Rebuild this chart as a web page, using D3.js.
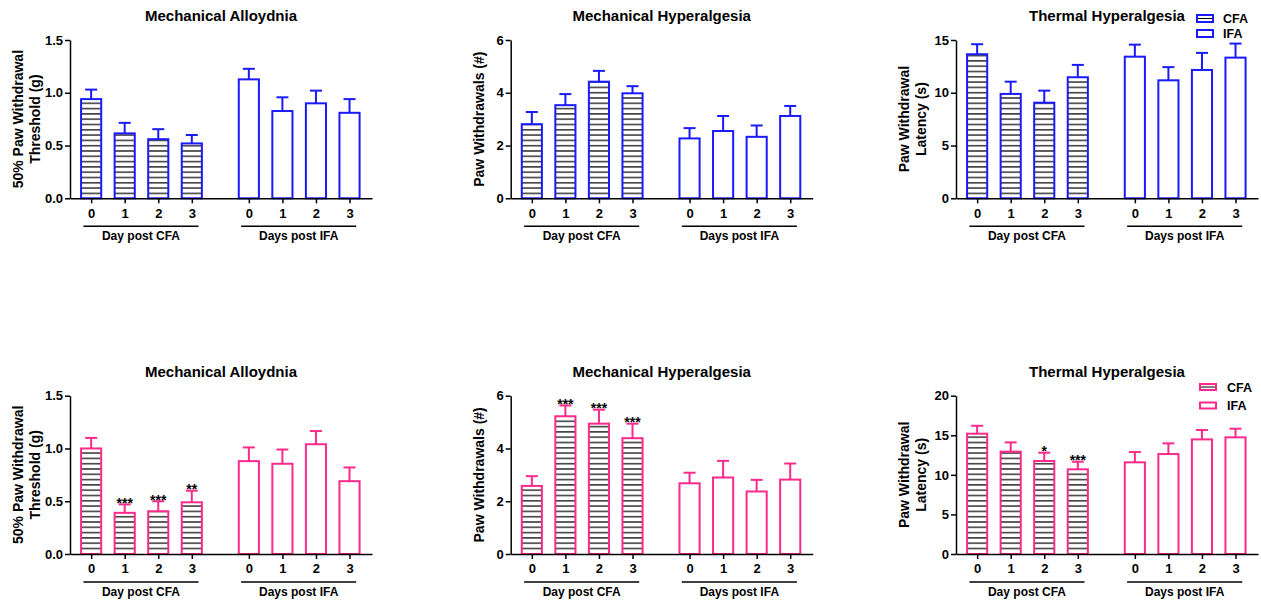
<!DOCTYPE html>
<html>
<head>
<meta charset="utf-8">
<script src="https://cdn.jsdelivr.net/npm/d3@7"></script>
<style>
body { margin: 0; background: #fff; }
text { font-family: "Liberation Sans", Arial, sans-serif; font-weight: bold; }
</style>
</head>
<body>
<svg id="chart" width="1261" height="601"></svg>
<script>
// categories
const days = ["0", "1", "2", "3"];
const groupLabels = ["Day post CFA", "Days post IFA"];
const legendLabels = ["CFA", "IFA"];
const titles = ["Mechanical Alloydnia", "Mechanical Hyperalgesia", "Thermal Hyperalgesia"];
const yLabels = [["50% Paw Withdrawal", "Threshold (g)"], ["Paw Withdrawals (#)"], ["Paw Withdrawal", "Latency (s)"]];

// top row (blue)
const alloCFA_1 = [0.94, 0.615, 0.56, 0.52],   alloCFA_1_sem = [0.09, 0.10, 0.095, 0.08];
const alloIFA_1 = [1.127, 0.827, 0.90, 0.81],  alloIFA_1_sem = [0.10, 0.13, 0.12, 0.13];
const hyperCFA_1 = [2.81, 3.53, 4.42, 3.98],   hyperCFA_1_sem = [0.46, 0.42, 0.41, 0.27];
const hyperIFA_1 = [2.27, 2.55, 2.33, 3.12],   hyperIFA_1_sem = [0.39, 0.57, 0.43, 0.38];
const thermCFA_1 = [13.65, 9.89, 9.06, 11.47], thermCFA_1_sem = [0.95, 1.16, 1.14, 1.17];
const thermIFA_1 = [13.42, 11.18, 12.16, 13.33], thermIFA_1_sem = [1.14, 1.25, 1.62, 1.33];

// bottom row (pink)
const alloCFA_2 = [1.0, 0.39, 0.405, 0.49],    alloCFA_2_sem = [0.10, 0.08, 0.095, 0.11];
const alloIFA_2 = [0.88, 0.855, 1.04, 0.69],   alloIFA_2_sem = [0.13, 0.135, 0.125, 0.13];
const hyperCFA_2 = [2.58, 5.22, 4.94, 4.39],   hyperCFA_2_sem = [0.37, 0.41, 0.53, 0.55];
const hyperIFA_2 = [2.68, 2.90, 2.37, 2.82],   hyperIFA_2_sem = [0.40, 0.63, 0.44, 0.61];
const thermCFA_2 = [15.2, 12.93, 11.75, 10.7], thermCFA_2_sem = [1.0, 1.17, 1.05, 0.96];
const thermIFA_2 = [11.58, 12.63, 14.48, 14.74], thermIFA_2_sem = [1.3, 1.35, 1.18, 1.09];

// significance marks (bottom row, CFA bars)
const alloStars = ["", "***", "***", "**"];
const hyperStars = ["", "***", "***", "***"];
const thermStars = ["", "", "*", "***"];

// y axis ticks
const alloTicks = [0, 0.5, 1.0, 1.5];
const hyperTicks = [0, 2, 4, 6];
const thermTicks_1 = [0, 5, 10, 15];
const thermTicks_2 = [0, 5, 10, 15, 20];

const BLUE = "#1a1aff", PINK = "#fb2a8b";
const slots = [0, 1, 2, 3, 4.7, 5.7, 6.7, 7.7];
const colX = [70, 510.7, 956];
const rowY = [{ bottom: 198.3, top: 40 }, { bottom: 554, top: 395.7 }];

const svg = d3.select("#chart");
const defs = svg.append("defs");

function addHatch(id) {
    const p = defs.append("pattern")
        .attr("id", id)
        .attr("patternUnits", "userSpaceOnUse")
        .attr("width", 10).attr("height", 5.3);
    p.append("rect").attr("width", 10).attr("height", 5.3).attr("fill", "#fff");
    p.append("line")
        .attr("x1", 0).attr("x2", 10).attr("y1", 2.6).attr("y2", 2.6)
        .attr("stroke", "#000").attr("stroke-width", 1.2);
}
addHatch("hatch");

const panels = [
    { row: 0, col: 0, color: BLUE, ticks: alloTicks, fmt: d3.format(".1f"), cfa: alloCFA_1, cfaSem: alloCFA_1_sem, ifa: alloIFA_1, ifaSem: alloIFA_1_sem },
    { row: 0, col: 1, color: BLUE, ticks: hyperTicks, fmt: d3.format("d"), cfa: hyperCFA_1, cfaSem: hyperCFA_1_sem, ifa: hyperIFA_1, ifaSem: hyperIFA_1_sem },
    { row: 0, col: 2, color: BLUE, ticks: thermTicks_1, fmt: d3.format("d"), cfa: thermCFA_1, cfaSem: thermCFA_1_sem, ifa: thermIFA_1, ifaSem: thermIFA_1_sem, legend: true },
    { row: 1, col: 0, color: PINK, ticks: alloTicks, fmt: d3.format(".1f"), cfa: alloCFA_2, cfaSem: alloCFA_2_sem, ifa: alloIFA_2, ifaSem: alloIFA_2_sem, stars: alloStars },
    { row: 1, col: 1, color: PINK, ticks: hyperTicks, fmt: d3.format("d"), cfa: hyperCFA_2, cfaSem: hyperCFA_2_sem, ifa: hyperIFA_2, ifaSem: hyperIFA_2_sem, stars: hyperStars },
    { row: 1, col: 2, color: PINK, ticks: thermTicks_2, fmt: d3.format("d"), cfa: thermCFA_2, cfaSem: thermCFA_2_sem, ifa: thermIFA_2, ifaSem: thermIFA_2_sem, stars: thermStars, legend: true }
];

function drawPanel(p) {
    const x0 = colX[p.col];
    const ry = rowY[p.row];
    const x = d3.scaleLinear().domain([-0.63, 8.37]).range([x0, x0 + 302]);
    const y = d3.scaleLinear().domain([0, d3.max(p.ticks)]).range([ry.bottom, ry.top]);
    const g = svg.append("g");

    // bars
    const bars = [];
    days.forEach((d, i) => {
        bars.push({ pos: slots[i], v: p.cfa[i], sem: p.cfaSem[i], hatch: true, star: p.stars ? p.stars[i] : "" });
    });
    days.forEach((d, i) => {
        bars.push({ pos: slots[i + 4], v: p.ifa[i], sem: p.ifaSem[i], hatch: false, star: "" });
    });
    const bw = x(0.6) - x(0);

    // error bars (upward only)
    g.selectAll(".err").data(bars).enter().append("line")
        .attr("x1", d => x(d.pos)).attr("x2", d => x(d.pos))
        .attr("y1", d => y(d.v)).attr("y2", d => y(d.v + d.sem))
        .attr("stroke", p.color).attr("stroke-width", 2);
    g.selectAll(".cap").data(bars).enter().append("line")
        .attr("x1", d => x(d.pos) - 6).attr("x2", d => x(d.pos) + 6)
        .attr("y1", d => y(d.v + d.sem)).attr("y2", d => y(d.v + d.sem))
        .attr("stroke", p.color).attr("stroke-width", 2);

    g.selectAll(".bar").data(bars).enter().append("rect")
        .attr("x", d => x(d.pos) - bw / 2)
        .attr("y", d => y(d.v))
        .attr("width", bw)
        .attr("height", d => y(0) - y(d.v))
        .attr("fill", d => d.hatch ? "url(#hatch)" : "#fff")
        .attr("stroke", p.color).attr("stroke-width", 2);

    g.selectAll(".star").data(bars.filter(d => d.star)).enter().append("text")
        .attr("x", d => x(d.pos))
        .attr("y", d => y(d.v + d.sem) + 3.5)
        .attr("text-anchor", "middle")
        .attr("font-size", 14)
        .text(d => d.star);

    // axes
    const ya = g.append("g")
        .attr("transform", "translate(" + x0 + ",0)")
        .call(d3.axisLeft(y).tickValues(p.ticks).tickFormat(p.fmt).tickSize(5).tickSizeOuter(0).tickPadding(2));
    const xa = g.append("g")
        .attr("transform", "translate(0," + y(0) + ")")
        .call(d3.axisBottom(x).tickValues(slots).tickFormat((d, i) => days[i % 4]).tickSize(5).tickSizeOuter(0).tickPadding(5));
    [ya, xa].forEach(a => {
        a.selectAll("path, line").attr("stroke", "#000").attr("stroke-width", 1.5);
        a.selectAll("text").attr("font-size", 13).attr("fill", "#000")
            .style("font-family", "'Liberation Sans', Arial, sans-serif").style("font-weight", "bold");
    });

    // group underlines and labels
    [[0, 3], [4, 7]].forEach((r, k) => {
        const xa1 = x(slots[r[0]] - 0.23), xa2 = x(slots[r[1]] + 0.2);
        g.append("line")
            .attr("x1", xa1).attr("x2", xa2)
            .attr("y1", y(0) + 28).attr("y2", y(0) + 28)
            .attr("stroke", "#000").attr("stroke-width", 1.5);
        g.append("text")
            .attr("x", (xa1 + xa2) / 2).attr("y", y(0) + 42)
            .attr("text-anchor", "middle").attr("font-size", 12)
            .text(groupLabels[k]);
    });

    // title
    g.append("text")
        .attr("x", x0 + 151).attr("y", ry.top - 19)
        .attr("text-anchor", "middle").attr("font-size", 15)
        .text(titles[p.col]);

    // y label
    const lines = yLabels[p.col];
    const cy = (ry.top + ry.bottom) / 2;
    lines.forEach((t, k) => {
        const xx = lines.length === 1 ? x0 - 27 : x0 - 47 + k * 16.5;
        g.append("text")
            .attr("transform", "translate(" + xx + "," + cy + ") rotate(-90)")
            .attr("text-anchor", "middle").attr("font-size", 14)
            .text(t);
    });

    // legend
    if (p.legend) {
        const lg = svg.append("g");
        const lx0 = p.row === 0 ? 1197 : 1200;
        const ly0 = p.row === 0 ? 15 : 384;
        const sw = 16, sh = p.row === 0 ? 7 : 6;
        const gap = p.row === 0 ? 15 : 18.5;
        legendLabels.forEach((t, k) => {
            const yy = ly0 + k * gap;
            lg.append("rect").attr("x", lx0).attr("y", yy).attr("width", sw).attr("height", sh)
                .attr("fill", "#fff").attr("stroke", p.color).attr("stroke-width", 2);
            if (k === 0) {
                lg.append("line").attr("x1", lx0 + 1).attr("x2", lx0 + sw - 1)
                    .attr("y1", yy + sh / 2).attr("y2", yy + sh / 2)
                    .attr("stroke", "#000").attr("stroke-width", 1);
            }
            lg.append("text").attr("x", lx0 + (p.row === 0 ? 26 : 27)).attr("y", yy + sh / 2 + 4.5)
                .attr("font-size", 12.5).text(t);
        });
    }
}

panels.forEach(drawPanel);
</script>
</body>
</html>
